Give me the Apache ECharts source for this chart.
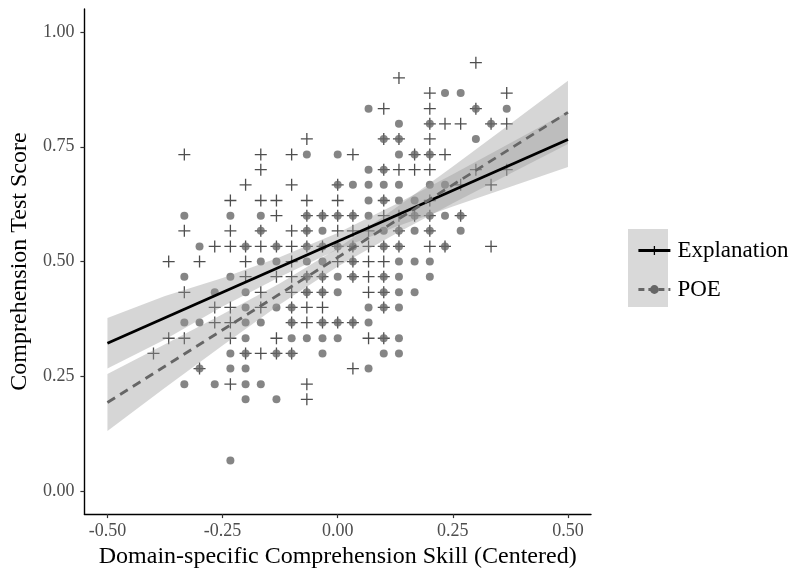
<!DOCTYPE html>
<html><head><meta charset="utf-8">
<script src="https://cdn.jsdelivr.net/npm/echarts@6/dist/echarts.min.js"></script>
<style>html,body{margin:0;padding:0;background:#fff}#c{width:793px;height:574px}</style>
</head><body><div id="c"></div>
<script>
// ---- data ----
const xTicks = [-0.5, -0.25, 0, 0.25, 0.5];
const yTicks = [0, 0.25, 0.5, 0.75, 1];
const seriesNames = ['Explanation', 'POE'];

const explanationPoints = [
  [0.3,0.933],
  [0.133,0.9],
  [0.2,0.867],[0.367,0.867],
  [0.1,0.833],[0.2,0.833],[0.3,0.833],
  [0.2,0.8],[0.233,0.8],[0.267,0.8],[0.333,0.8],[0.367,0.8],
  [-0.067,0.767],[0.1,0.767],[0.133,0.767],[0.2,0.767],
  [-0.333,0.733],[-0.167,0.733],[-0.1,0.733],[0.033,0.733],[0.167,0.733],[0.2,0.733],[0.233,0.733],
  [-0.167,0.7],[0.1,0.7],[0.133,0.7],[0.167,0.7],[0.2,0.7],[0.3,0.7],[0.367,0.7],
  [-0.2,0.667],[-0.1,0.667],[0,0.667],[0.267,0.667],[0.333,0.667],
  [-0.233,0.633],[-0.167,0.633],[-0.133,0.633],[-0.067,0.633],[0,0.633],[0.1,0.633],[0.2,0.633],
  [-0.133,0.6],[-0.067,0.6],[-0.033,0.6],[0,0.6],[0.033,0.6],[0.1,0.6],[0.133,0.6],[0.167,0.6],[0.2,0.6],[0.267,0.6],
  [-0.333,0.567],[-0.233,0.567],[-0.167,0.567],[-0.1,0.567],[-0.067,0.567],[0,0.567],[0.033,0.567],[0.067,0.567],[0.133,0.567],[0.2,0.567],
  [-0.267,0.533],[-0.233,0.533],[-0.2,0.533],[-0.167,0.533],[-0.133,0.533],[-0.1,0.533],[-0.067,0.533],[-0.033,0.533],[0,0.533],[0.033,0.533],[0.067,0.533],[0.1,0.533],[0.133,0.533],[0.2,0.533],[0.233,0.533],[0.333,0.533],
  [-0.367,0.5],[-0.3,0.5],[-0.2,0.5],[-0.1,0.5],[0,0.5],[0.033,0.5],[0.067,0.5],[0.1,0.5],
  [-0.2,0.467],[-0.133,0.467],[-0.1,0.467],[-0.067,0.467],[-0.033,0.467],[0.033,0.467],[0.067,0.467],[0.1,0.467],
  [-0.333,0.433],[-0.167,0.433],[-0.1,0.433],[-0.067,0.433],[-0.033,0.433],[0.067,0.433],[0.1,0.433],
  [-0.267,0.4],[-0.233,0.4],[-0.167,0.4],[-0.1,0.4],[-0.067,0.4],[-0.033,0.4],[0.1,0.4],
  [-0.267,0.367],[-0.233,0.367],[-0.1,0.367],[-0.067,0.367],[-0.033,0.367],[0,0.367],[0.033,0.367],
  [-0.367,0.333],[-0.333,0.333],[-0.233,0.333],[-0.133,0.333],[0.067,0.333],[0.1,0.333],
  [-0.4,0.3],[-0.2,0.3],[-0.167,0.3],[-0.133,0.3],[-0.1,0.3],
  [-0.3,0.267],[0.033,0.267],
  [-0.233,0.233],[-0.067,0.233],
  [-0.067,0.2]
];

const poePoints = [
  [0.233,0.867],[0.267,0.867],
  [0.067,0.833],[0.3,0.833],[0.367,0.833],
  [0.133,0.8],[0.2,0.8],[0.333,0.8],
  [0.1,0.767],[0.133,0.767],[0.3,0.767],
  [-0.067,0.733],[0,0.733],[0.133,0.733],[0.167,0.733],[0.2,0.733],
  [0.067,0.7],[0.1,0.7],
  [0,0.667],[0.033,0.667],[0.067,0.667],[0.1,0.667],[0.133,0.667],[0.2,0.667],[0.233,0.667],
  [0.067,0.633],[0.1,0.633],[0.133,0.633],[0.167,0.633],
  [-0.333,0.6],[-0.233,0.6],[-0.167,0.6],[-0.067,0.6],[-0.033,0.6],[0,0.6],[0.033,0.6],[0.067,0.6],[0.167,0.6],[0.2,0.6],[0.233,0.6],[0.267,0.6],
  [-0.167,0.567],[-0.067,0.567],[-0.033,0.567],[0.1,0.567],[0.133,0.567],[0.167,0.567],[0.2,0.567],[0.267,0.567],
  [-0.3,0.533],[-0.2,0.533],[-0.133,0.533],[-0.067,0.533],[-0.033,0.533],[0,0.533],[0.033,0.533],[0.1,0.533],[0.133,0.533],[0.233,0.533],
  [-0.167,0.5],[-0.133,0.5],[-0.067,0.5],[-0.033,0.5],[0.033,0.5],[0.133,0.5],[0.167,0.5],[0.2,0.5],
  [-0.333,0.467],[-0.233,0.467],[-0.067,0.467],[-0.033,0.467],[0,0.467],[0.033,0.467],[0.1,0.467],[0.133,0.467],[0.2,0.467],
  [-0.267,0.433],[-0.2,0.433],[-0.067,0.433],[-0.033,0.433],[0,0.433],[0.1,0.433],[0.133,0.433],[0.167,0.433],
  [-0.2,0.4],[-0.133,0.4],[-0.1,0.4],[0.067,0.4],[0.1,0.4],[0.133,0.4],
  [-0.333,0.367],[-0.3,0.367],[-0.2,0.367],[-0.167,0.367],[-0.1,0.367],[-0.033,0.367],[0,0.367],[0.033,0.367],[0.067,0.367],
  [-0.2,0.333],[-0.1,0.333],[-0.067,0.333],[-0.033,0.333],[0,0.333],[0.1,0.333],[0.133,0.333],
  [-0.233,0.3],[-0.2,0.3],[-0.133,0.3],[-0.1,0.3],[-0.033,0.3],[0.1,0.3],[0.133,0.3],
  [-0.3,0.267],[-0.233,0.267],[-0.2,0.267],[0.067,0.267],
  [-0.333,0.233],[-0.267,0.233],[-0.2,0.233],[-0.167,0.233],
  [-0.2,0.2],[-0.133,0.2],
  [-0.233,0.067]
];

// fitted lines (end points) and confidence bands
const fitX = [-0.5, 0.5];
const explanationFit = [0.322, 0.766];
const poeFit = [0.193, 0.825];
const bandX = [-0.5, -0.375, -0.25, -0.125, 0, 0.125, 0.25, 0.375, 0.5];
const explanationLower = [0.267, 0.330, 0.402, 0.467, 0.526, 0.575, 0.620, 0.663, 0.706];
const explanationUpper = [0.377, 0.425, 0.464, 0.510, 0.562, 0.624, 0.690, 0.758, 0.826];
const poeLower = [0.131, 0.225, 0.317, 0.407, 0.489, 0.560, 0.627, 0.692, 0.756];
const poeUpper = [0.255, 0.320, 0.385, 0.453, 0.529, 0.616, 0.707, 0.800, 0.894];

// ---- chart ----
const FONT = "'Liberation Serif', 'Times New Roman', serif";
const PLUS = 'path://M5,0L5,10M0,5L10,5';

function bandSeries(name, lo, hi) {
  return {
    type: 'custom', name: name, silent: true, z: 3,
    data: bandX.map((x, i) => [x, lo[i], hi[i]]),
    encode: { x: 0, y: [1, 2] },
    renderItem(params, api) {
      if (params.dataIndex !== 0) return null;
      const up = bandX.map((x, i) => api.coord([x, hi[i]]));
      const dn = bandX.map((x, i) => api.coord([x, lo[i]])).reverse();
      return { type: 'polygon', shape: { points: up.concat(dn) }, style: { fill: 'rgba(153,153,153,0.4)' } };
    }
  };
}

const chart = echarts.init(document.getElementById('c'), null, { renderer: 'canvas' });
chart.setOption({
  animation: false,
  backgroundColor: '#fff',
  grid: { left: 82, right: 202, top: 9, bottom: 57 },
  xAxis: {
    type: 'value', min: -0.55, max: 0.55,
    splitLine: { show: false },
    axisLine: { onZero: false, lineStyle: { color: '#000', width: 1.4 } },
    axisTick: { customValues: xTicks, length: 4, lineStyle: { color: '#333', width: 1.2 } },
    axisLabel: { customValues: xTicks, formatter: v => v.toFixed(2), color: '#4d4d4d', fontFamily: FONT, fontSize: 18, margin: 8 },
    name: 'Domain-specific Comprehension Skill (Centered)', nameLocation: 'middle', nameGap: 28,
    nameTextStyle: { fontFamily: FONT, fontSize: 24, color: '#000' }
  },
  yAxis: {
    type: 'value', min: -0.05, max: 1.05,
    splitLine: { show: false },
    axisLine: { onZero: false, lineStyle: { color: '#000', width: 1.4 } },
    axisTick: { customValues: yTicks, length: 4, lineStyle: { color: '#333', width: 1.2 } },
    axisLabel: { customValues: yTicks, formatter: v => v.toFixed(2), color: '#4d4d4d', fontFamily: FONT, fontSize: 18, margin: 10 },
    name: 'Comprehension Test Score', nameLocation: 'middle', nameGap: 46,
    nameTextStyle: { fontFamily: FONT, fontSize: 24, color: '#000' }
  },
  graphic: [{ type: 'rect', left: 628, top: 229, shape: { width: 40, height: 78 }, style: { fill: '#d9d9d9' }, silent: true, z: 0 }],
  legend: {
    orient: 'vertical', left: 632, top: 234, itemWidth: 32, itemHeight: 11, itemGap: 16,
    selectedMode: false,
    textStyle: { fontFamily: FONT, fontSize: 23, color: '#000', padding: [0, 0, 0, 2] },
    data: [
      { name: seriesNames[0], itemStyle: { color: 'rgba(0,0,0,0)', borderColor: '#000', borderWidth: 1.3 }, lineStyle: { color: '#000', width: 2.8, type: 'solid' } },
      { name: seriesNames[1], itemStyle: { color: '#666', borderWidth: 0 }, lineStyle: { color: '#666', width: 2.8, type: [6, 4] } }
    ]
  },
  series: [
    { type: 'scatter', name: seriesNames[0] + ' points', data: explanationPoints, symbol: PLUS, symbolSize: 12,
      itemStyle: { color: 'rgba(0,0,0,0)', borderColor: '#222', borderWidth: 1.3 }, silent: true, z: 2 },
    { type: 'scatter', name: seriesNames[1] + ' points', data: poePoints, symbol: 'circle', symbolSize: 8,
      itemStyle: { color: '#666' }, silent: true, z: 2 },
    bandSeries(seriesNames[0] + ' band', explanationLower, explanationUpper),
    bandSeries(seriesNames[1] + ' band', poeLower, poeUpper),
    { type: 'line', name: seriesNames[0], data: fitX.map((x, i) => [x, explanationFit[i]]), showSymbol: false,
      symbol: PLUS, lineStyle: { color: '#000', width: 2.8 }, itemStyle: { color: '#000' }, silent: true, z: 5 },
    { type: 'line', name: seriesNames[1], data: fitX.map((x, i) => [x, poeFit[i]]), showSymbol: false,
      symbol: 'circle', lineStyle: { color: '#666', width: 2.8, type: [9, 6] }, itemStyle: { color: '#666' }, silent: true, z: 5 }
  ]
});
</script></body></html>
